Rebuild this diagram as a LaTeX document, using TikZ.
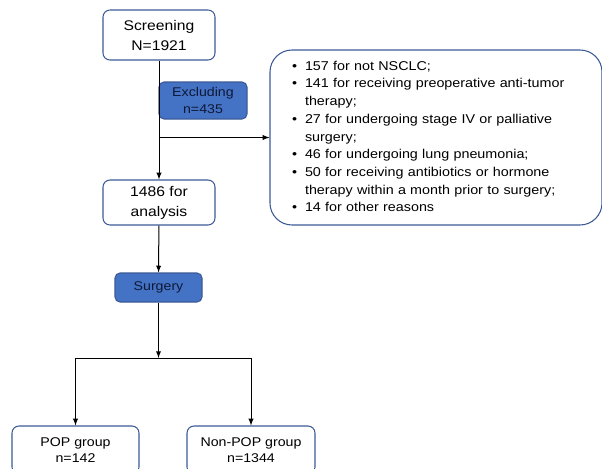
\documentclass[tikz,border=0pt]{standalone}
\usepackage{fontspec}
\setmainfont{Liberation Sans}[FakeStretch=1.12]

\definecolor{boxline}{RGB}{60,90,150}
\definecolor{boxfill}{RGB}{68,114,196}
\definecolor{boxtext}{RGB}{15,25,55}

\newcommand*{\px}{0.75pt}

\begin{document}
\begin{tikzpicture}
[
	x=\px, y=-\px,
	whitebox/.style={draw=boxline,fill=white,rounded corners=7*\px,align=center,inner sep=0pt,line width=0.8pt},
	bluebox/.style={draw=boxline,fill=boxfill,rounded corners=5*\px,align=center,inner sep=0pt,text=boxtext,line width=0.8pt},
	flow/.style={-latex,line width=0.75pt}
]

	\useasboundingbox (0,0) rectangle (602,468);

	% main column
	\node[whitebox,minimum width=112*\px,minimum height=50*\px,font=\fontsize{10.5}{15}\selectfont]
		(screening) at (159,35) {Screening\\N=1921};
	\node[whitebox,minimum width=112*\px,minimum height=45*\px,font=\fontsize{10.5}{15}\selectfont]
		(analysis) at (159,202.5) {1486 for\\analysis};
	\node[bluebox,minimum width=88*\px,minimum height=37*\px,font=\fontsize{9.5}{12.75}\selectfont]
		(excluding) at (203,100.5) {Excluding\\n=435};
	\node[bluebox,minimum width=87*\px,minimum height=29*\px,font=\fontsize{9.5}{12.75}\selectfont]
		(surgery) at (158.5,287.5) {Surgery};

	% reasons for exclusion
	\node[whitebox,rounded corners=22*\px,minimum width=332*\px,minimum height=175*\px,
		inner xsep=22*\px,text width=288*\px,align=left,font=\fontsize{9.6}{13.3}\selectfont]
		(reasons) at (436,137.5) {%
		\begin{tabular}{@{}l@{\hspace{6pt}}l@{}}
		\textbullet & 157 for not NSCLC;\\
		\textbullet & 141 for receiving preoperative anti-tumor\\
		 & therapy;\\
		\textbullet & 27 for undergoing stage IV or palliative\\
		 & surgery;\\
		\textbullet & 46 for undergoing lung pneumonia;\\
		\textbullet & 50 for receiving antibiotics or hormone\\
		 & therapy within a month prior to surgery;\\
		\textbullet & 14 for other reasons
		\end{tabular}};

	% groups
	\node[whitebox,minimum width=127*\px,minimum height=48*\px,font=\fontsize{9.5}{12}\selectfont]
		(pop) at (75.5,450) {POP group\\n=142};
	\node[whitebox,minimum width=128*\px,minimum height=48*\px,font=\fontsize{9.5}{12}\selectfont]
		(nonpop) at (251,450) {Non-POP group\\n=1344};

	% connectors
	\coordinate (split) at (screening.south |- reasons.west);
	\coordinate (fork) at (158.5,358);
	\draw[flow] (screening) -- (analysis);
	\draw[flow] (split) -- (reasons.west);
	\draw[flow] (analysis) -- (surgery);
	\draw[flow] (surgery) -- (fork);
	\draw[flow] (fork) -| (pop);
	\draw[flow] (fork) -| (nonpop);

\end{tikzpicture}
\end{document}
